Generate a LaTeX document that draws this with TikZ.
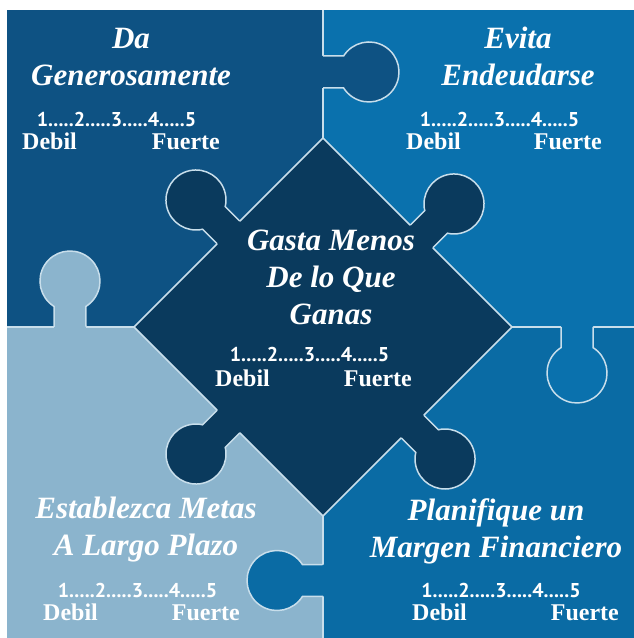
\documentclass[tikz,border=0pt]{standalone}
\usepackage{fontspec}
\setmainfont{Liberation Serif}
\newfontfamily\numfont{PT Sans}
\usetikzlibrary{positioning}

\definecolor{tlblue}{HTML}{0E5283}
\definecolor{trblue}{HTML}{0A71AD}
\definecolor{brblue}{HTML}{0A6BA4}
\definecolor{blblue}{HTML}{8BB4CD}
\definecolor{navy}{HTML}{0A3A5D}
\definecolor{seam}{HTML}{C8DEEB}

\begin{document}
\begin{tikzpicture}[x=1bp,y=1bp,
	seamline/.style={draw=seam,line width=1.5bp},
	puzzletab/.pic={
		\fill[#1] (-16,-3) -- (-16,20.6) arc[start angle=237.8,end angle=-57.8,radius=30] -- (16,-3) -- cycle;
		\draw[seamline] (-16,0) -- (-16,20.6) arc[start angle=237.8,end angle=-57.8,radius=30] -- (16,0);
	},
	title/.style={text=white,font=\fontsize{31bp}{37bp}\selectfont\bfseries\itshape,align=center,inner sep=0pt,text depth=0pt,anchor=south},
	nums/.style={text=white,font=\numfont\fontsize{20bp}{24bp}\selectfont\bfseries,inner sep=0pt,anchor=base},
	weak/.style={text=white,font=\fontsize{24bp}{28bp}\selectfont\bfseries,inner sep=0pt,anchor=base west},
	strong/.style={weak,anchor=base east}]
			\useasboundingbox (0,0) rectangle (634,638);
			% four pieces
			\fill[tlblue] (7,311) rectangle (323,628);
			\fill[trblue] (323,311) rectangle (634,628);
			\fill[blblue] (7,0) rectangle (323,311);
			\fill[brblue] (323,0) rectangle (634,311);
			\draw[seamline] (323,628) -- (323,500) (323,122) -- (323,0)
				(7,311) -- (134,311) (512,311) -- (634,311);
			\pic[rotate=-90] at (323,566) {puzzletab=tlblue};
			\pic at (70,311) {puzzletab=blblue};
			\pic[rotate=90] at (323,57.5) {puzzletab=brblue};
			\pic[rotate=180] at (577,311) {puzzletab=trblue};
			% centre piece
			\filldraw[fill=navy,seamline] (134,311) -- (323,500) -- (512,311) -- (323,122) -- cycle;
			\pic[rotate=45] at (228.5,405.5) {puzzletab=navy};
			\pic[rotate=-45] at (421.5,401.5) {puzzletab=navy};
			\pic[rotate=135] at (228.5,216.5) {puzzletab=navy};
			\pic[rotate=-135] at (412.5,211.5) {puzzletab=navy};
			% texts
			\node[title] (da) at (131,552) {Da\\Generosamente};
			\node[nums] (da_n) at (116.5,511) {1.....2.....3.....4.....5};
			\node[weak] (da_w) at (22,488) {Debil};
			\node[strong] (da_s) at (220,488) {Fuerte};
			\node[title] (evita) at (518,552) {Evita\\Endeudarse};
			\node[nums] (evita_n) at (499.5,511) {1.....2.....3.....4.....5};
			\node[weak] (evita_w) at (406,488) {Debil};
			\node[strong] (evita_s) at (602,488) {Fuerte};
			\node[title] (gasta) at (331,313) {Gasta Menos\\De lo Que\\Ganas};
			\node[nums] (gasta_n) at (309.5,276) {1.....2.....3.....4.....5};
			\node[weak] (gasta_w) at (215,251) {Debil};
			\node[strong] (gasta_s) at (412,251) {Fuerte};
			\node[title] (metas) at (146,82) {Establezca Metas\\A Largo Plazo};
			\node[nums] (metas_n) at (137.5,40) {1.....2.....3.....4.....5};
			\node[weak] (metas_w) at (43,17) {Debil};
			\node[strong] (metas_s) at (240,17) {Fuerte};
			\node[title] (margen) at (496,80) {Planifique un\\Margen Financiero};
			\node[nums] (margen_n) at (501,40) {1.....2.....3.....4.....5};
			\node[weak] (margen_w) at (412,17) {Debil};
			\node[strong] (margen_s) at (619,17) {Fuerte};
		\end{tikzpicture}
\end{document}
